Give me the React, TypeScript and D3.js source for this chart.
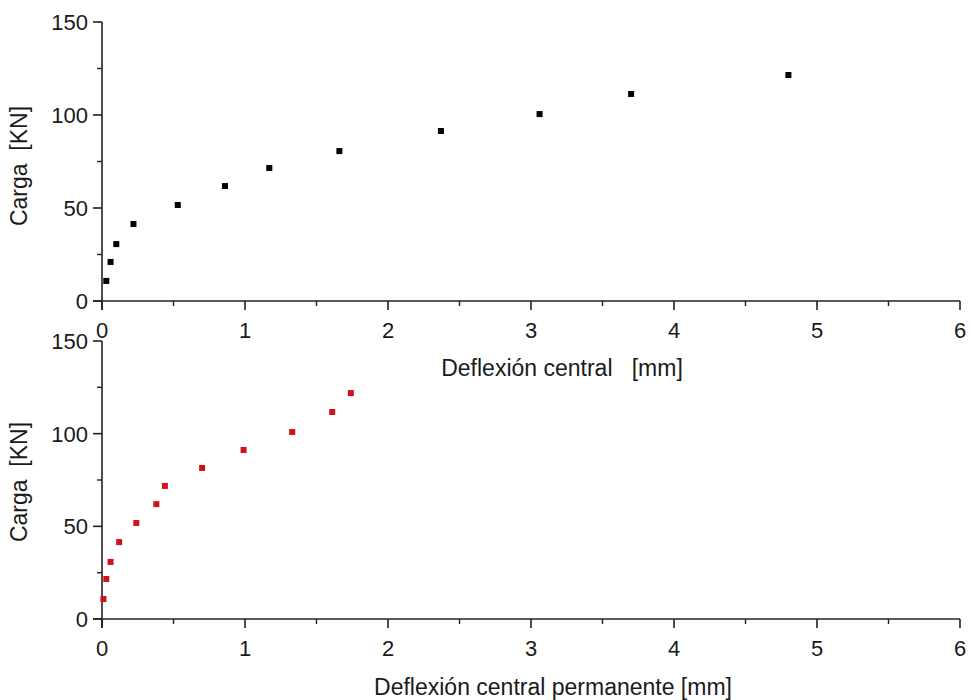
import React from "react";
import * as d3 from "d3";

const topDeflection = [0.03, 0.06, 0.1, 0.22, 0.53, 0.86, 1.17, 1.66, 2.37, 3.06, 3.7, 4.8];
const topLoad = [10.8, 21, 30.6, 41.4, 51.6, 61.8, 71.5, 80.6, 91.4, 100.5, 111.3, 121.5];
const bottomDeflection = [0.01, 0.03, 0.06, 0.12, 0.24, 0.38, 0.44, 0.7, 0.99, 1.33, 1.61, 1.74];
const bottomLoad = [10.8, 21.6, 30.8, 41.5, 51.8, 62, 71.8, 81.5, 91.2, 100.9, 111.7, 121.9];
const xTicks = [0, 1, 2, 3, 4, 5, 6];
const xMinor = [0.5, 1.5, 2.5, 3.5, 4.5, 5.5];
const yTicks = [0, 50, 100, 150];
const yMinor = [25, 75, 125];

const FONT = "'Liberation Sans', Arial, sans-serif";
const AX = "#222";
const TXT = "#1a1a1a";

type PanelProps = {
  xs: number[];
  ys: number[];
  color: string;
  top: number;
  bottom: number;
  xLabel: string;
  xLabelX: number;
  xLabelY: number;
  yLabelY: number;
};

function Panel({ xs, ys, color, top, bottom, xLabel, xLabelX, xLabelY, yLabelY }: PanelProps) {
  const x = d3.scaleLinear().domain([0, 6]).range([102, 960]);
  const y = d3.scaleLinear().domain([0, 150]).range([bottom, top]);
  const s = 6;
  return (
    <g>
      <line x1={x(0)} x2={x(0)} y1={y(150)} y2={y(0) + 9} stroke={AX} strokeWidth={1.6} />
      {yTicks.map((t) => (
        <g key={"y" + t}>
          <line x1={x(0) - 9} x2={x(0)} y1={y(t)} y2={y(t)} stroke={AX} strokeWidth={1.6} />
          <text x={x(0) - 14} y={y(t)} dy="0.36em" textAnchor="end" fontSize={22} fontFamily={FONT} fill={TXT}>
            {t}
          </text>
        </g>
      ))}
      {yMinor.map((t) => (
        <line key={"ym" + t} x1={x(0) - 5} x2={x(0)} y1={y(t)} y2={y(t)} stroke={AX} strokeWidth={1.4} />
      ))}
      <line x1={x(0) - 9} x2={x(6)} y1={y(0)} y2={y(0)} stroke={AX} strokeWidth={1.6} />
      {xTicks.map((t) => (
        <g key={"x" + t}>
          <line x1={x(t)} x2={x(t)} y1={y(0)} y2={y(0) + 9} stroke={AX} strokeWidth={1.6} />
          <text x={x(t)} y={y(0) + 37} textAnchor="middle" fontSize={22} fontFamily={FONT} fill={TXT}>
            {t}
          </text>
        </g>
      ))}
      {xMinor.map((t) => (
        <line key={"xm" + t} x1={x(t)} x2={x(t)} y1={y(0)} y2={y(0) + 5} stroke={AX} strokeWidth={1.4} />
      ))}
      <text x={xLabelX} y={xLabelY} textAnchor="middle" fontSize={23} fontFamily={FONT} fill={TXT} style={{ whiteSpace: "pre" }}>
        {xLabel}
      </text>
      <text
        transform={`translate(27,${yLabelY}) rotate(-90)`}
        textAnchor="middle"
        fontSize={23}
        fontFamily={FONT}
        fill={TXT}
        style={{ whiteSpace: "pre" }}
      >
        {"Carga  [KN]"}
      </text>
      {xs.map((v, i) => (
        <rect key={i} x={x(v) - s / 2} y={y(ys[i]) - s / 2} width={s} height={s} fill={color} />
      ))}
    </g>
  );
}

export default function App() {
  return (
    <svg width={972} height={700} style={{ position: "absolute", left: 0, top: 0, background: "#fff" }}>
      <rect width={972} height={700} fill="#fff" />
      <Panel
        xs={topDeflection}
        ys={topLoad}
        color="#000"
        top={22}
        bottom={301}
        xLabel={"Deflexión central   [mm]"}
        xLabelX={562}
        xLabelY={376}
        yLabelY={166}
      />
      <Panel
        xs={bottomDeflection}
        ys={bottomLoad}
        color="#d0121c"
        top={341}
        bottom={619}
        xLabel={"Deflexión central permanente [mm]"}
        xLabelX={553}
        xLabelY={695}
        yLabelY={482}
      />
    </svg>
  );
}
